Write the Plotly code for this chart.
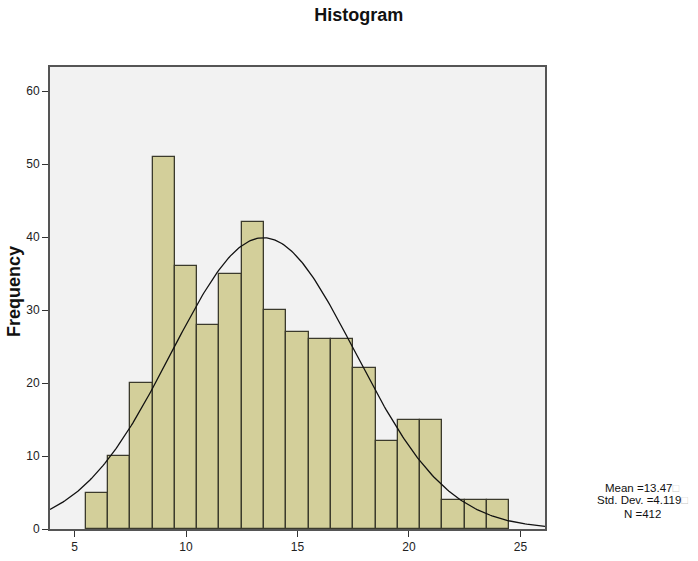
import numpy as np
import plotly.graph_objects as go

# bin centres (bin width 1) and counts
bin_centers = [6, 7, 8, 9, 10, 11, 12, 13, 14, 15, 16, 17, 18, 19, 20, 21, 22, 23, 24]
counts = [5, 10, 20, 51, 36, 28, 35, 42, 30, 27, 26, 26, 22, 12, 15, 15, 4, 4, 4]

mean = 13.47
std_dev = 4.119
n_total = 412
bin_width = 1.0

x_ticks = [5, 10, 15, 20, 25]
y_ticks = [0, 10, 20, 30, 40, 50, 60]

x_range = [3.9, 26.1]
y_range = [0, 63.3]

FONT = "Arial, Liberation Sans, sans-serif"

# fitted normal curve (SPSS "display normal curve")
curve_x = np.linspace(x_range[0], x_range[1], 300)
curve_y = n_total * bin_width / (std_dev * np.sqrt(2 * np.pi)) * np.exp(
    -0.5 * ((curve_x - mean) / std_dev) ** 2
)

fig = go.Figure()
fig.add_trace(
    go.Bar(
        x=bin_centers, y=counts, width=bin_width,
        marker={"color": "#d3cf9a", "line": {"color": "#3b3a2c", "width": 1.3}},
        showlegend=False,
    )
)
fig.add_trace(
    go.Scatter(
        x=curve_x, y=curve_y, mode="lines",
        line={"color": "#111111", "width": 1.3},
        showlegend=False,
    )
)

# statistics block, one line per annotation to keep the tight spacing
box = '<span style="color:#c8c8c8">\u25a1</span>'
stat_lines = [f"Mean ={mean}{box}", f"Std. Dev. ={std_dev}{box}", f"N ={n_total}"]
for text, ypos in zip(stat_lines, [0.0909, 0.0628, 0.0346]):
    fig.add_annotation(
        text=text, xref="paper", yref="paper", x=1.196, y=ypos,
        xanchor="center", yanchor="middle", showarrow=False,
        height=13, borderpad=0, borderwidth=0,
        font={"family": FONT, "size": 11.5, "color": "#111111"},
    )

fig.add_annotation(
    text="<b>Frequency</b>", textangle=-90,
    xref="paper", yref="paper", x=-0.0727, y=0.513,
    xanchor="center", yanchor="middle", showarrow=False,
    font={"family": FONT, "size": 18, "color": "#111111"},
)

fig.update_layout(
    width=698, height=561,
    margin={"l": 50, "r": 153, "t": 67, "b": 32},
    paper_bgcolor="white", plot_bgcolor="#f2f2f2",
    title={
        "text": "<b>Histogram</b>", "x": 0.514, "xanchor": "center",
        "y": 0.974, "yanchor": "middle",
        "font": {"family": FONT, "size": 18, "color": "#111111"},
    },
    font={"family": FONT, "size": 12, "color": "#222222"},
    bargap=0,
)
fig.update_xaxes(
    range=x_range, tickvals=x_ticks, showgrid=False, zeroline=False,
    showline=True, linecolor="#555555", linewidth=2, mirror=True,
    ticks="outside", ticklen=6, tickcolor="#333333", tickwidth=1,
    automargin=False,
)
fig.update_yaxes(
    range=y_range, tickvals=y_ticks, showgrid=False, zeroline=False,
    showline=True, linecolor="#555555", linewidth=2, mirror=True,
    ticks="outside", ticklen=6, tickcolor="#333333", tickwidth=1,
    automargin=False,
)

# drop the default 8px page margin so the figure fills the window
fig.write_html(
    "out.html",
    config={"displayModeBar": False},
    post_script="document.body.style.margin = '0';",
)
